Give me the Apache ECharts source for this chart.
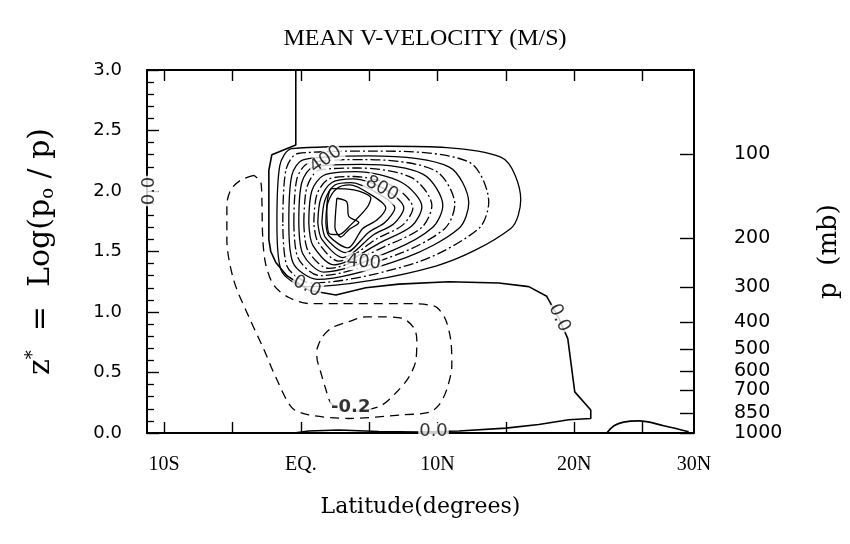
<!DOCTYPE html>
<html>
<head>
<meta charset="utf-8">
<script src="https://cdn.jsdelivr.net/npm/echarts@6/dist/echarts.min.js"></script>
<style>
html, body { margin: 0; padding: 0; background: #fff; }
#chart { width: 850px; height: 544px; }
</style>
</head>
<body>
<div id="chart"></div>
<script>
// latitude axis: degrees, negative = south
var latTicks = [-10, -5, 0, 5, 10, 15, 20, 25];
var latLabelVals = [-10, 0, 10, 20, 28.75];
var latLabels = ['10S', 'EQ.', '10N', '20N', '30N'];
// right axis pressure levels (mb)
var pressureLevels = [100, 200, 300, 400, 500, 600, 700, 850, 1000];

// contours, points are [latitude, z*]
// positive cell, outer -> inner
var cPos1 = [[-1.75,1.74],[-1.54,2.21],[-0.66,2.35],[6.43,2.37],[14.62,2.28],[16.08,1.93],[15.35,1.69],[9.87,1.38],[0.40,1.21],[-1.46,1.35],[-1.75,1.74]];
var cPos2 = [[-1.32,1.74],[-1.10,2.17],[-0.22,2.31],[5.48,2.33],[12.28,2.24],[13.74,1.91],[13.01,1.69],[8.48,1.41],[0.80,1.24],[-1.02,1.38],[-1.32,1.74]];
var cPos3 = [[-0.88,1.74],[-0.66,2.13],[0.22,2.26],[4.97,2.29],[10.82,2.20],[12.28,1.90],[11.55,1.69],[7.68,1.45],[1.20,1.27],[-0.58,1.41],[-0.88,1.74]];
var cPos4 = [[-0.51,1.74],[-0.29,2.10],[0.58,2.23],[4.68,2.26],[9.80,2.17],[11.26,1.89],[10.53,1.69],[7.16,1.48],[1.40,1.30],[-0.22,1.45],[-0.51,1.74]];
var cPos5 = [[-0.15,1.74],[0.07,2.07],[0.95,2.20],[4.39,2.22],[8.92,2.14],[10.38,1.88],[9.65,1.70],[6.73,1.51],[1.68,1.33],[0.15,1.48],[-0.15,1.74]];
var cPos6 = [[0.22,1.74],[0.44,2.03],[1.32,2.17],[4.17,2.19],[8.11,2.11],[9.58,1.88],[8.85,1.70],[6.29,1.55],[2.05,1.36],[0.51,1.51],[0.22,1.74]];
var cPos7 = [[0.58,1.74],[0.80,2.00],[1.68,2.13],[4.02,2.16],[7.38,2.07],[8.85,1.87],[8.11,1.71],[5.92,1.58],[2.41,1.39],[0.88,1.55],[0.58,1.74]];
var cPos8 = [[0.95,1.74],[1.17,1.97],[2.05,2.10],[3.87,2.12],[6.73,2.04],[8.19,1.86],[7.46,1.72],[5.63,1.61],[2.78,1.42],[1.24,1.58],[0.95,1.74]];
var cPos9 = [[1.24,1.74],[1.46,1.94],[2.27,2.07],[3.80,2.10],[6.07,2.02],[7.53,1.86],[6.80,1.73],[5.34,1.64],[3.07,1.45],[1.54,1.60],[1.24,1.74]];
var cPos10 = [[1.54,1.74],[1.75,1.92],[2.49,2.05],[3.65,2.07],[5.48,1.99],[6.87,1.86],[6.14,1.74],[4.97,1.66],[3.29,1.49],[1.83,1.61],[1.54,1.74]];
var cPos11 = [[1.83,1.74],[1.97,1.90],[2.63,2.02],[3.58,2.05],[4.97,1.98],[6.21,1.86],[5.56,1.76],[4.53,1.69],[3.44,1.53],[2.05,1.63],[1.83,1.74]];
var cPos12 = [[1.90,1.88],[2.27,2.02],[3.87,2.01],[5.12,1.94],[4.82,1.86],[3.65,1.72],[2.78,1.64],[2.05,1.65],[1.90,1.88]];
var cPos13 = [[2.63,1.94],[3.36,1.91],[3.51,1.79],[4.24,1.74],[3.51,1.68],[2.92,1.62],[2.49,1.70],[2.63,1.94]];

// zero line
var cZero = [[-0.37,3.0],[-0.37,2.38],[-2.12,2.30],[-2.34,2.17],[-2.34,1.60],[-2.2,1.50],[-1.83,1.41],[-1.02,1.30],[0.58,1.18],[2.56,1.14],[4.75,1.20],[7.16,1.23],[10.82,1.25],[14.47,1.24],[16.67,1.21],[17.98,1.13],[18.86,0.95],[19.52,0.78],[20.03,0.34],[21.2,0.19],[21.2,0.12],[19.59,0.11],[17.40,0.07],[14.99,0.04],[11.55,0.017],[8.63,0.008],[5.70,0.012],[2.78,0.025],[0.58,0.017],[-0.51,0]];
var cZeroLobe = [[22.37,0],[22.9,0.06],[23.6,0.09],[24.71,0.10],[26.54,0.06],[28.36,0.01]];

// negative
var cNeg1 = [[-3.44,2.13],[-4.39,2.09],[-5.12,2.01],[-5.41,1.88],[-5.41,1.60],[-4.90,1.26],[-3.80,0.96],[-2.70,0.69],[-1.83,0.46],[-0.66,0.21],[0.58,0.15],[3.51,0.12],[7.38,0.15],[9.36,0.17],[10.09,0.23],[10.67,0.36],[11.04,0.56],[10.96,0.77],[10.53,0.95],[9.72,1.05],[7.16,1.07],[2.78,1.07],[0.58,1.07],[-0.88,1.12],[-1.97,1.22],[-2.56,1.39],[-2.78,1.60],[-2.85,1.93],[-2.92,2.07],[-3.44,2.13]];
var cNeg2 = [[1.17,0.69],[1.54,0.79],[2.27,0.87],[3.51,0.92],[4.75,0.96],[5.92,0.96],[7.38,0.95],[8.26,0.87],[8.48,0.77],[8.41,0.60],[7.89,0.46],[6.94,0.33],[5.92,0.23],[4.75,0.19],[3.14,0.18],[2.19,0.25],[1.83,0.36],[1.46,0.50],[1.17,0.63],[1.17,0.69]];

// contour labels
var labelText = ['400', '800', '400', '0.0', '0.0', '-0.2', '0.0', '0.0'];
var labelPos = [[1.83,2.26],[5.92,2.02],[4.6,1.41],[0.44,1.21],[18.9,0.95],[3.65,0.21],[9.7,0.01],[-11.05,2.0]];
var labelRotate = [35, -28, -5, -25, -65, 0, 0, 90];

var posList = [cPos1, cPos2, cPos3, cPos4, cPos5, cPos6, cPos7, cPos8, cPos9, cPos10, cPos11, cPos12, cPos13];

function levelZ(p) { return Math.log(1000 / p); }
var pressureZ = pressureLevels.map(levelZ);

var series = [];
posList.forEach(function (c, i) {
    series.push({
        type: 'line', data: c, symbol: 'none', smooth: 0.3, silent: true,
        lineStyle: { color: '#000', width: 1.3, type: (i % 2 === 1 && i < 8) ? [10, 3, 2, 3] : 'solid' }
    });
});
series.push({ type: 'line', data: cZero, symbol: 'none', silent: true, lineStyle: { color: '#000', width: 1.6 } });
series.push({ type: 'line', data: cZeroLobe, symbol: 'none', smooth: 0.4, silent: true, lineStyle: { color: '#000', width: 1.6 } });
series.push({ type: 'line', data: cNeg1, symbol: 'none', smooth: 0.3, silent: true, lineStyle: { color: '#000', width: 1.3, type: [9, 6] } });
series.push({ type: 'line', data: cNeg2, symbol: 'none', smooth: 0.3, silent: true, lineStyle: { color: '#000', width: 1.3, type: [9, 6] } });
series.push({
    type: 'scatter', symbolSize: 1, z: 10, silent: true,
    itemStyle: { color: 'rgba(0,0,0,0)' },
    label: {
        show: true, position: 'inside', formatter: '{b}', color: '#000',
        fontFamily: 'DejaVu Sans', fontSize: 18, backgroundColor: '#fff', padding: [0, 1]
    },
    data: labelText.map(function (t, i) {
        return {
            name: t, value: labelPos[i],
            label: { rotate: labelRotate[i], fontWeight: t === '-0.2' ? 'bold' : 'normal' }
        };
    })
});

var chart = echarts.init(document.getElementById('chart'));
chart.setOption({
    animation: false,
    backgroundColor: '#fff',
    title: {
        text: 'MEAN V-VELOCITY (M/S)', left: 'center', top: 22,
        textStyle: { fontFamily: 'Liberation Serif', fontSize: 24, fontWeight: 'normal', color: '#000' }
    },
    grid: { left: 147, right: 156, top: 70, bottom: 111 },
    xAxis: [{
        type: 'value', position: 'bottom', min: -11.25, max: 28.75,
        axisLine: { onZero: false, lineStyle: { color: '#000', width: 2 } },
        axisTick: { inside: true, length: 11, customValues: latTicks, lineStyle: { color: '#000', width: 1.4 } },
        axisLabel: {
            customValues: latLabelVals, margin: 22, color: '#000',
            fontFamily: 'Liberation Serif', fontSize: 20,
            formatter: function (v) {
                for (var i = 0; i < latLabelVals.length; i++) {
                    if (Math.abs(latLabelVals[i] - v) < 1e-6) return latLabels[i];
                }
                return '';
            }
        },
        splitLine: { show: false },
        name: 'Latitude(degrees)', nameLocation: 'middle', nameGap: 63,
        nameTextStyle: { fontFamily: 'DejaVu Serif', fontSize: 22, color: '#000' }
    }, {
        type: 'value', position: 'top', min: -11.25, max: 28.75,
        axisLine: { onZero: false, lineStyle: { color: '#000', width: 2 } },
        axisTick: { inside: true, length: 11, customValues: latTicks, lineStyle: { color: '#000', width: 1.4 } },
        axisLabel: { show: false },
        splitLine: { show: false }
    }],
    yAxis: [{
        type: 'value', position: 'left', min: 0, max: 3, interval: 0.5,
        axisLine: { onZero: false, lineStyle: { color: '#000', width: 2 } },
        axisTick: { inside: true, length: 12, lineStyle: { color: '#000', width: 1.4 } },
        minorTick: { show: true, splitNumber: 5, length: 7, lineStyle: { color: '#000', width: 1.3 } },
        axisLabel: {
            margin: 25, color: '#000', fontFamily: 'DejaVu Sans', fontSize: 18,
            formatter: function (v) { return v.toFixed(1); }
        },
        splitLine: { show: false },
        name: '{t|z}{sup|*}{t|  =  Log(p}{sub|o}{t| / p)}', nameLocation: 'middle', nameGap: 88,
        nameTextStyle: {
            color: '#000',
            rich: {
                t: { fontFamily: 'DejaVu Serif', fontSize: 30, color: '#000' },
                sup: { fontFamily: 'DejaVu Serif', fontSize: 18, color: '#000', padding: [0, 0, 17, 0] },
                sub: { fontFamily: 'DejaVu Serif', fontSize: 18, color: '#000', padding: [13, 0, 0, 0] }
            }
        }
    }, {
        type: 'value', position: 'right', min: 0, max: 3,
        axisLine: { onZero: false, lineStyle: { color: '#000', width: 2 } },
        axisTick: { inside: true, length: 14, customValues: pressureZ, lineStyle: { color: '#000', width: 1.4 } },
        axisLabel: {
            customValues: pressureZ, margin: 40, color: '#000', fontFamily: 'DejaVu Sans', fontSize: 19,
            formatter: function (v) {
                for (var i = 0; i < pressureZ.length; i++) {
                    if (Math.abs(pressureZ[i] - v) < 1e-6) return String(pressureLevels[i]);
                }
                return '';
            }
        },
        splitLine: { show: false },
        name: 'p  (mb)', nameLocation: 'middle', nameGap: 122,
        nameTextStyle: { fontFamily: 'DejaVu Serif', fontSize: 26, color: '#000' }
    }],
    series: series
});
</script>
</body>
</html>
